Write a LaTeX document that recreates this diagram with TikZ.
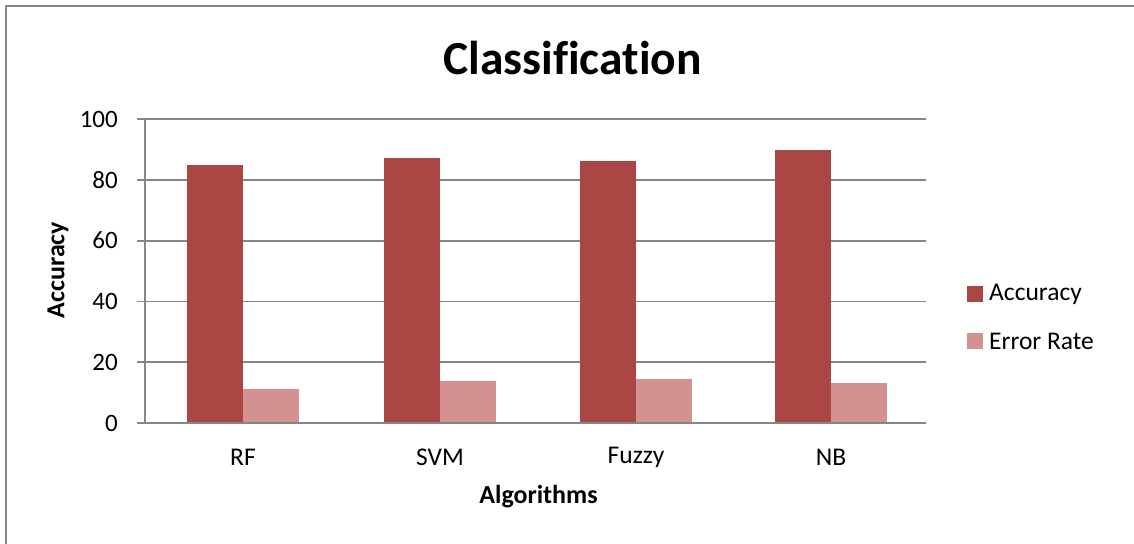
\documentclass[tikz,border=0pt]{standalone}
\usepackage{fontspec}
\setmainfont{Carlito}[Ligatures=NoCommon]
\definecolor{accred}{HTML}{AA4643}
\definecolor{errred}{HTML}{D39190}
\definecolor{gridgray}{HTML}{868686}
\tikzset{
  gridline/.style={draw=gridgray, line width=1.8pt},
  framel/.style={draw=gridgray, line width=2pt},
  acc/.style={fill=accred},
  err/.style={fill=errred},
  ticklab/.style={font=\fontsize{25}{30}\selectfont, anchor=east, inner sep=0pt},
  catlab/.style={font=\fontsize{25.5}{30}\selectfont, inner sep=0pt},
  axtitle/.style={font=\fontsize{26}{30}\selectfont\bfseries, inner sep=0pt},
  leglab/.style={font=\fontsize{25.5}{30}\selectfont, anchor=west, inner sep=0pt},
}
\begin{document}
\begin{tikzpicture}[x=1pt,y=-1pt]
\useasboundingbox (0,0) rectangle (1134,543);
\fill[white] (0,0) rectangle (1134,543);
% frame (top and left only visible)
\draw[framel] (5.5,560) -- (5.5,6.5) -- (1140,6.5);
% title
\node[font=\fontsize{47.5}{50}\selectfont\bfseries, inner sep=0pt] (title) at (572.5,58) {Classification};
% gridlines and tick labels
\foreach \v/\n in {0/t0,20/t20,40/t40,60/t60,80/t80,100/t100}{
  \draw[gridline] (137,{423-\v*3.04}) -- (926,{423-\v*3.04});
  \node[ticklab] (\n) at (118,{423-\v*3.04}) {\v};
}
\draw[gridline] (145,119) -- (145,423);
% bars
\foreach \c/\a/\e in {243/85/11.3, 440/87.2/13.8, 636/86.2/14.6, 831/89.8/13.1}{
  \fill[acc] ({\c-56},423) rectangle (\c,{423-\a*3.04});
  \fill[err] (\c,423) rectangle ({\c+56},{423-\e*3.04});
}
\draw[gridline] (137,423) -- (926,423);
% category labels
\node[catlab] (rf) at (243,457) {RF};
\node[catlab] (svm) at (440,457) {SVM};
\node[catlab] (fuzzy) at (636,457) {Fuzzy};
\node[catlab] (nb) at (831,457) {NB};
% axis titles
\node[axtitle] (xt) at (538.5,497) {Algorithms};
\node[axtitle, rotate=90] (yt) at (58,270) {Accuracy};
% legend
\fill[acc] (967,286) rectangle (983,302);
\node[leglab] (lacc) at (989,294) {Accuracy};
\fill[err] (967,333) rectangle (983,349);
\node[leglab] (lerr) at (989,341) {Error Rate};
\end{tikzpicture}
\end{document}
